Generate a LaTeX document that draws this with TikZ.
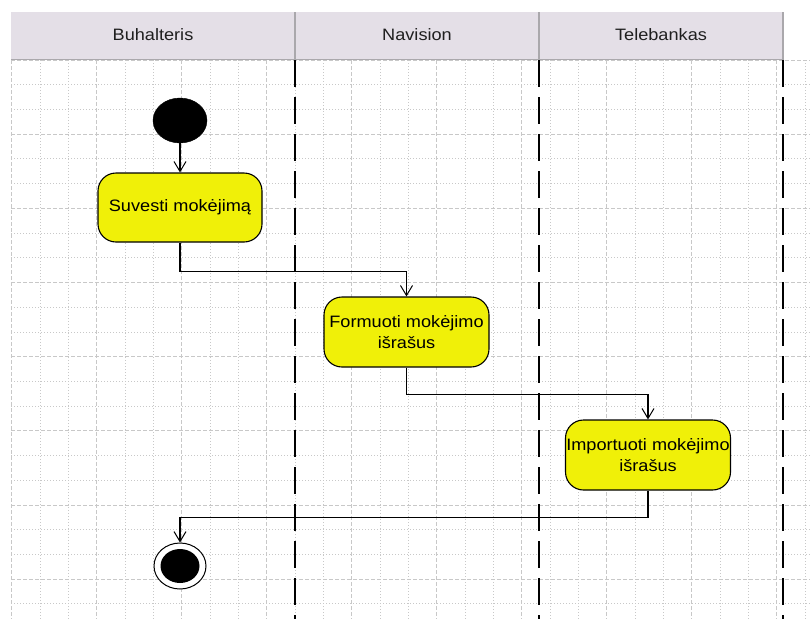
\documentclass[tikz,border=0pt]{standalone}
\usepackage{fontspec}
\setmainfont{Liberation Sans}[FakeStretch=1.1]
\usetikzlibrary{arrows.meta,shapes.geometric}
\definecolor{hdr}{RGB}{228,223,231}
\definecolor{hdrline}{RGB}{170,168,172}
\definecolor{gridc}{RGB}{200,200,200}
\definecolor{actfill}{RGB}{240,240,8}
\begin{document}
\begin{tikzpicture}[x=1pt,y=-1pt,
  minorgrid/.style={gridc, line width=0.8pt, dash pattern=on 1pt off 2pt},
  majorgrid/.style={gridc, line width=0.8pt, dash pattern=on 4pt off 2pt},
  lanediv/.style={black, line width=1.8pt, dash pattern=on 26.5pt off 10.5pt},
  hdrtext/.style={font=\fontsize{16.5}{19}\selectfont, text=black!88},
  act/.style={draw=black, line width=1.1pt, fill=actfill, rounded corners=18pt,
    minimum width=165pt, minimum height=70pt, inner sep=0pt, align=center,
    font=\fontsize{16.5}{21}\selectfont},
  startnode/.style={ellipse, fill=black, draw=black, minimum width=54pt, minimum height=45pt, inner sep=0pt},
  endouter/.style={ellipse, fill=white, draw=black, line width=1pt, minimum width=52pt, minimum height=46pt, inner sep=0pt},
  endinner/.style={ellipse, fill=black, minimum width=39pt, minimum height=34pt, inner sep=0pt},
  flow/.style={black, line width=1.2pt, -{Straight Barb[length=10pt,width=12pt,line width=1pt]}}
]
\useasboundingbox (0,0) rectangle (810,619);
\fill[white] (0,0) rectangle (810,619);
% grid
\begin{scope}
  \clip (11,60) rectangle (810,619);
  \foreach \i in {0,...,9}{
    \foreach \j in {1,2}{\draw[minorgrid] ({11.7+85*\i+28.33*\j},60) -- ++(0,559);}
    \draw[majorgrid] ({11.7+85*\i},60) -- ++(0,559);
  }
  \foreach \i in {0,...,7}{
    \foreach \j in {1,2}{\draw[minorgrid] (11,{60+74.16*\i+24.72*\j}) -- (810,{60+74.16*\i+24.72*\j});}
    \draw[majorgrid] (11,{60+74.16*\i}) -- (810,{60+74.16*\i});
  }
\end{scope}
% header
\fill[hdr] (11,12) rectangle (783,60);
\draw[hdrline, line width=1.2pt] (11,59.5) -- (783,59.5);
\foreach \x in {295,539,783}{\draw[hdrline, line width=1.2pt] (\x,12) -- (\x,60);}
\node[hdrtext] (h1) at (153,35) {Buhalteris};
\node[hdrtext] (h2) at (417,35) {Navision};
\node[hdrtext] (h3) at (661,35) {Telebankas};
% lane dividers
\foreach \x in {295,539,783}{\draw[lanediv] (\x,60) -- (\x,619);}
% nodes
\node[startnode] (init) at (180,120.5) {};
\node[act, minimum width=164pt, minimum height=69pt] (a1) at (180,207.5) {Suvesti mokėjimą};
\node[act] (a2) at (406.5,332) {Formuoti mokėjimo\\išrašus};
\node[act] (a3) at (648,455) {Importuoti mokėjimo\\išrašus};
\node[endouter] (fin) at (180,566) {};
\node[endinner] (fincore) at (fin.center) {};
% connectors
\draw[flow] (init) -- (a1);
\draw[flow] (a1.south) -- ++(0,28.7) -| (a2.north);
\draw[flow] (a2.south) -- ++(0,27) -| (a3.north);
\draw[flow] (a3.south) -- ++(0,26.7) -| (fin.north);
\end{tikzpicture}
\end{document}
